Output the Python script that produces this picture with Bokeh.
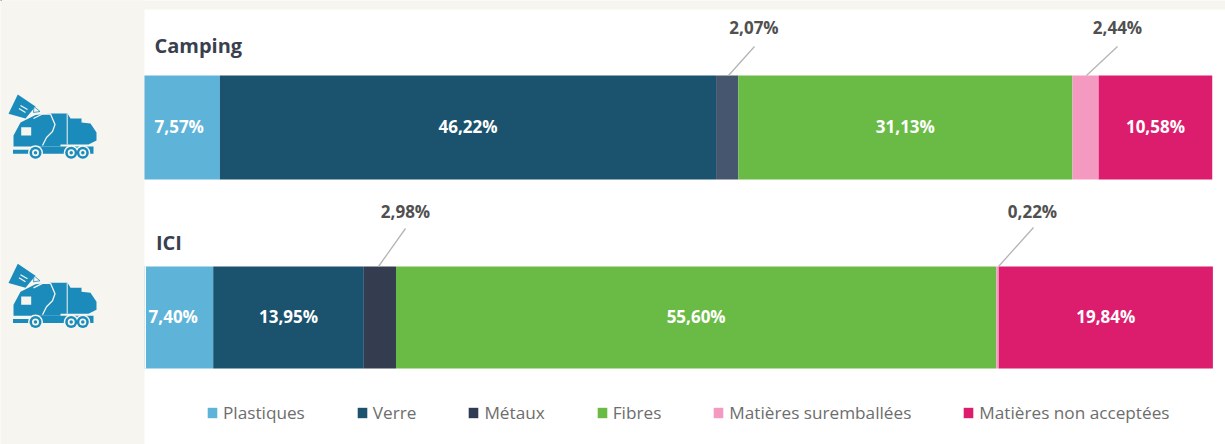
from bokeh.plotting import figure
from bokeh.models import Range1d, Legend, LegendItem, GlobalInlineStyleSheet
from bokeh.core.properties import value
from bokeh.embed import file_html
from bokeh.resources import INLINE

categories = ["Plastiques", "Verre", "Métaux", "Fibres", "Matières suremballées", "Matières non acceptées"]
camping_values = [7.57, 46.22, 2.07, 31.13, 2.44, 10.58]
ici_values = [7.40, 13.95, 2.98, 55.60, 0.22, 19.84]
camping_colors = ["#5eb3d9", "#1b536e", "#46566e", "#6abb45", "#f49ac1", "#dc1d6e"]
ici_colors = ["#5eb3d9", "#1b536e", "#343d50", "#6abb45", "#f49ac1", "#dc1d6e"]
legend_colors = ["#5eb3d9", "#1b536e", "#2f3b52", "#6abb45", "#f49ac1", "#dc1d6e"]

W, H = 1225, 444
BG = "#f6f5f0"
FONT = "Open Sans"
TRUCK = "#1a8bbb"

p = figure(width=W, height=H, output_backend="svg", toolbar_location=None,
           x_range=Range1d(0, W), y_range=Range1d(H, 0),
           x_axis_location=None, y_axis_location=None,
           min_border=0, outline_line_color=None,
           background_fill_color="white", border_fill_color="white",
           stylesheets=[GlobalInlineStyleSheet(css=f"html,body{{margin:0;padding:0;overflow:hidden;background:{BG}}}")])
p.grid.visible = False

# value scales of the two rows (their zero lies behind the left panel)
s1, z1 = 10.735, 219.4 - 7.57 * 10.735
s2, z2 = 10.797, 212.7 - 7.40 * 10.797
p.extra_x_ranges["camping"] = Range1d(-z1 / s1, (W - z1) / s1)
p.extra_x_ranges["ici"] = Range1d(-z2 / s2, (W - z2) / s2)

rows = [
    ("camping", camping_values, camping_colors, 127.0, 104),
    ("ici", ici_values, ici_colors, 317.0, 102),
]
text_jobs = []
for name, vals, cols, yc, h in rows:
    c = 0.0
    for i, v in enumerate(vals):
        p.hbar(y=[yc], left=[c], right=[c + v], height=h, color=cols[i],
               line_color=None, x_range_name=name)
        if i not in (2, 4):
            text_jobs.append((name, c + v / 2, 125.5 if name == "camping" else 315.5,
                              f"{v:.2f}".replace(".", ",") + "%"))
        c += v

# left panel and top band hide the start of the bars
p.quad(left=[0, 0, 144], right=[144, W, 145.5], top=[0, 0, 266], bottom=[H, 9, 368],
       color=[BG, BG, "white"], line_color=None)

for name, x, y, t in text_jobs:
    p.text(x=[x], y=[y], text=[t], x_range_name=name, text_color="white", text_align="center",
           text_baseline="middle", text_font=value(FONT), text_font_style="bold", text_font_size="17px")

# callouts
p.multi_line(xs=[[754, 728], [1117, 1086], [405, 378], [1033, 998]],
             ys=[[46, 75], [46, 75], [228, 266], [227, 266]],
             line_color="#b4b4b4", line_width=1.3)
p.text(x=[753.5, 1117, 405, 1032], y=[26.5, 26.5, 210.5, 210.5],
       text=["2,07%", "2,44%", "2,98%", "0,22%"],
       text_color="#505050", text_align="center", text_baseline="middle",
       text_font=value(FONT), text_font_style="bold", text_font_size="17px")

# row titles
p.text(x=[154, 155.5], y=[45, 242], text=["Camping", "ICI"], text_color="#3a3f50",
       text_baseline="middle", text_font=value(FONT), text_font_style="bold", text_font_size="20px")

# truck pictograms
bin_shape = [(17.3, 94), (35, 106), (25, 118), (8, 113.3)]
body = [(13, 135), (20, 122), (35, 114.5), (50, 113), (67, 113), (70, 118), (81, 118), (81, 122),
        (90, 123), (96, 132), (96, 140), (88, 144), (60, 144), (60, 146), (13, 146)]
chassis = [(12.5, 149.3), (30, 149.3), (40, 146), (93, 146), (93, 153.3), (12.5, 153.3)]
white_window = [(20.7, 126.7), (30.7, 126.7), (30.7, 135), (20.7, 135)]
wheel_x = [35, 70.7, 82.3]
wheel_y = 152.3
for dy in (0, 169.3):
    p.patches(xs=[[q[0] for q in s] for s in (bin_shape, body, chassis)],
              ys=[[q[1] + dy for q in s] for s in (bin_shape, body, chassis)],
              color=TRUCK, line_color=None)
    p.patch(x=[q[0] for q in white_window], y=[q[1] + dy for q in white_window], color=BG, line_color=None)
    # white outline of the lifting arm
    p.line(x=[33, 42, 50, 54.5, 52, 46, 42], y=[v + dy for v in [118, 113.5, 113.5, 124, 131, 137, 145]],
           line_color=BG, line_width=1.3)
    p.line(x=[66.7, 66.7], y=[113 + dy, 144 + dy], line_color=BG, line_width=1)
    p.multi_line(xs=[[20, 27], [18.5, 25]], ys=[[105 + dy, 109 + dy], [108 + dy, 112 + dy]],
                 line_color=BG, line_width=1.2)
    p.patch(x=[33.5, 39.5, 33], y=[v + dy for v in [106, 111, 112]], color=BG, line_color=TRUCK, line_width=0.8)
    p.scatter(x=wheel_x, y=[wheel_y + dy] * 3, size=15, color=BG, line_color=None)
    p.scatter(x=wheel_x, y=[wheel_y + dy] * 3, size=12, color=TRUCK, line_color=None)
    p.scatter(x=wheel_x, y=[wheel_y + dy] * 3, size=7, color=BG, line_color=None)
    p.scatter(x=wheel_x, y=[wheel_y + dy] * 3, size=3.5, color=TRUCK, line_color=None)

# legend
leg_r = [p.hbar(y=[-50], left=[0], right=[1], height=1, color=c, line_color=None) for c in legend_colors]
legend = Legend(items=[LegendItem(label=c, renderers=[r]) for c, r in zip(categories, leg_r)],
                orientation="horizontal", location=(206, 20), spacing=51, padding=0, margin=0,
                glyph_width=12, glyph_height=13, label_standoff=5,
                background_fill_alpha=0, border_line_color=None,
                label_text_font="Open Sans", label_text_font_size="17.2px", label_text_color="#6d6d6d")
p.add_layout(legend, "center")

open("out.html", "w").write(file_html(p, INLINE))
